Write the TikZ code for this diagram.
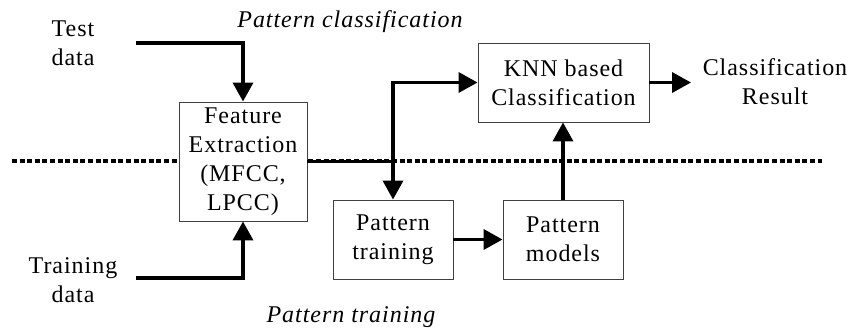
\documentclass[tikz,border=0pt]{standalone}
\usepackage{fontspec}
\setmainfont{Liberation Serif}[LetterSpace=4]
\usetikzlibrary{arrows.meta}

\tikzset{
  box/.style={draw=black!75,line width=0.9pt,fill=white,align=center,inner sep=0pt},
  lbl/.style={align=center,inner sep=0pt},
  flow/.style={line width=3.6pt},
  arr/.style={flow,-{Triangle[length=19pt,width=20pt]}},
  sep/.style={line width=3.6pt,dash pattern=on 5pt off 2.6pt}
}

\begin{document}
\begin{tikzpicture}[x=1pt,y=-1pt,font=\fontsize{24}{29}\selectfont]
\useasboundingbox (0,0) rectangle (851,329);

% dotted border between the two phases
\coordinate (sl) at (12,161);
\coordinate (sr) at (822,161);
\draw[sep] (sl) -- (sr);

\node[lbl] (test) at (73,43) {Test\\data};
\node[lbl] (train) at (73,280) {Training\\data};
\node[lbl,font=\fontsize{24}{29}\selectfont\itshape] (pc) at (350,22) {Pattern classification};
\node[lbl,font=\fontsize{24}{29}\selectfont\itshape] (ptr) at (351,317) {Pattern training};

\node[box,minimum width=128pt,minimum height=119pt] (fe) at (243,161.5)
  {Feature\\Extraction\\(MFCC,\\LPCC)};
\node[box,minimum width=171pt,minimum height=79pt] (knn) at (563.5,82.5)
  {KNN based\\Classification};
\node[box,minimum width=120pt,minimum height=79pt] (pt) at (393,239.5)
  {Pattern\\training};
\node[box,minimum width=120pt,minimum height=79pt] (pm) at (563,239.5)
  {Pattern\\models};
\node[lbl] (res) at (775,82) {Classification\\Result};

\coordinate (tin) at (136,43);
\coordinate (trin) at (136,278);
\coordinate (jn) at (pt.north |- fe.east);
\coordinate (rout) at (691,82.5);

\draw[arr] (tin) -| (fe.north);
\draw[arr] (trin) -| (fe.south);
\draw[flow] (fe.east) -- (jn);
\draw[arr] (jn) |- (knn.west);
\draw[arr] (jn) -- (pt.north);
\draw[arr] (pt) -- (pm);
\draw[arr] (pm.north) -- (pm.north |- knn.south);
\draw[arr] (knn.east) -- (rout);
\end{tikzpicture}
\end{document}
